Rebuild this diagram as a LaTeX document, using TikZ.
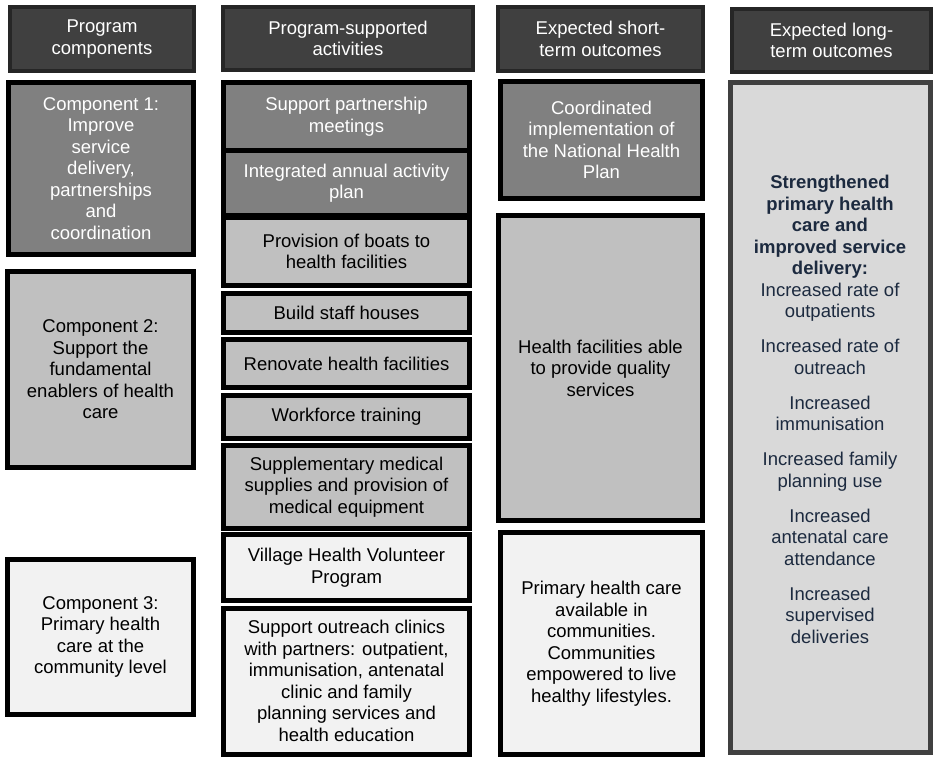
\documentclass[tikz,border=0pt]{standalone}
\usepackage{fontspec}
\setmainfont{Liberation Sans}
\definecolor{hdrfill}{HTML}{404040}
\definecolor{hdrdraw}{HTML}{262626}
\definecolor{dkfill}{HTML}{808080}
\definecolor{mdfill}{HTML}{C0C0C0}
\definecolor{ltfill}{HTML}{F2F2F2}
\definecolor{lgfill}{HTML}{D9D9D9}
\definecolor{lgdraw}{HTML}{404040}
\definecolor{navy}{HTML}{1C2A3F}
\begin{document}
\begin{tikzpicture}[x=1pt,y=-1pt,
  every node/.style={font=\fontsize{18.5}{21.5}\selectfont, align=center, inner sep=0pt},
  hdr/.style={draw=hdrdraw, line width=4pt, fill=hdrfill, text=white},
  boxd/.style={draw=black, line width=5pt, fill=dkfill, text=white},
  boxm/.style={draw=black, line width=5pt, fill=mdfill, text=black},
  boxl/.style={draw=black, line width=5pt, fill=ltfill, text=black},
  boxlong/.style={draw=lgdraw, line width=5pt, fill=lgfill}]
\useasboundingbox (0,0) rectangle (935,759);
% headers
\node[hdr, minimum width=184pt, minimum height=64pt] (h1) at (102,39) {Program\\components};
\node[hdr, minimum width=250pt, minimum height=63pt] (h2) at (348,38.5) {Program-supported\\activities};
\node[hdr, minimum width=205pt, minimum height=64pt] (h3) at (600.5,39) {Expected short-\\term outcomes};
\node[hdr, minimum width=199pt, minimum height=63pt] (h4) at (831.5,40.5) {Expected long-\\term outcomes};
% components
\node[boxd, minimum width=185pt, minimum height=172pt] (c1) at (101,168.5) {Component 1:\\Improve\\service\\delivery,\\partnerships\\and\\coordination};
\node[boxm, minimum width=186pt, minimum height=196pt] (c2) at (100.5,369.5) {Component 2:\\Support the\\fundamental\\enablers of health\\care};
\node[boxl, minimum width=186pt, minimum height=155pt] (c3) at (100.5,637) {Component 3:\\Primary health\\care at the\\community level};
% activities
\node[boxd, minimum width=246pt, minimum height=68pt] (a1) at (346.5,116.5) {Support partnership\\meetings};
\node[boxd, minimum width=246pt, minimum height=65pt] (a2) at (346.5,183) {Integrated annual activity\\plan};
\node[boxm, minimum width=246pt, minimum height=68pt] (a3) at (346.5,251.5) {Provision of boats to\\health facilities};
\node[boxm, minimum width=246pt, minimum height=39pt] (a4) at (346.5,313) {Build staff houses};
\node[boxm, minimum width=246pt, minimum height=48pt] (a5) at (346.5,363.5) {Renovate health facilities};
\node[boxm, minimum width=246pt, minimum height=43pt] (a6) at (346.5,417) {Workforce training};
\node[boxm, minimum width=246pt, minimum height=83pt] (a7) at (346.5,487) {Supplementary medical\\supplies and provision of\\medical equipment};
\node[boxl, minimum width=246pt, minimum height=66pt] (a8) at (346.5,567.5) {Village Health Volunteer\\Program};
\node[boxl, minimum width=246pt, minimum height=146pt] (a9) at (346.5,681) {Support outreach clinics\\with partners: outpatient,\\immunisation, antenatal\\clinic and family\\planning services and\\health education};
% short-term outcomes
\node[boxd, minimum width=202pt, minimum height=117pt] (s1) at (601.5,140) {Coordinated\\implementation of\\the National Health\\Plan};
\node[boxm, minimum width=204pt, minimum height=305pt] (s2) at (600.5,368) {Health facilities able\\to provide quality\\services};
\node[boxl, minimum width=202pt, minimum height=222pt] (s3) at (601.5,643.5) {Primary health care\\available in\\communities.\\Communities\\empowered to live\\healthy lifestyles.};
% long-term outcomes
\node[boxlong, minimum width=200pt, minimum height=670pt] (l1) at (830.5,417.5) {};
\node[text=navy] (l1t) at (830,409.5) {\textbf{Strengthened}\\\textbf{primary health}\\\textbf{care and}\\\textbf{improved service}\\\textbf{delivery:}\\Increased rate of\\outpatients\\[13.5pt]Increased rate of\\outreach\\[13.5pt]Increased\\immunisation\\[13.5pt]Increased family\\planning use\\[13.5pt]Increased\\antenatal care\\attendance\\[13.5pt]Increased\\supervised\\deliveries};
\end{tikzpicture}
\end{document}
